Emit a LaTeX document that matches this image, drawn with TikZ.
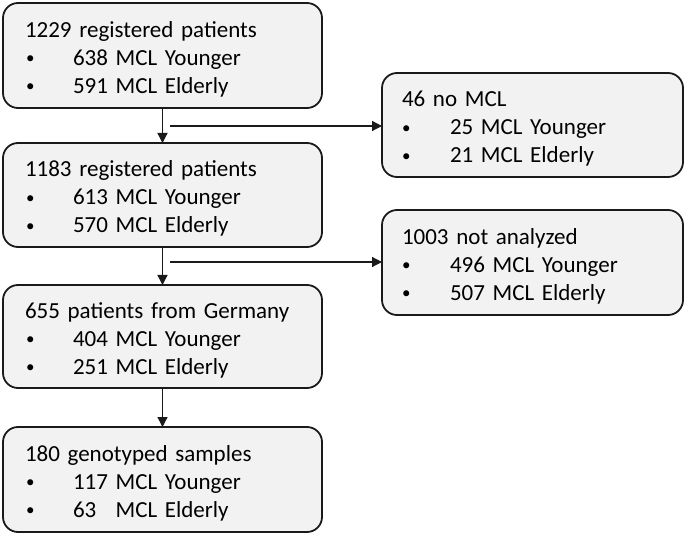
\documentclass[tikz,border=0pt]{standalone}
\usepackage{fontspec}
\setmainfont{Carlito}
\usetikzlibrary{arrows.meta}
\definecolor{boxfill}{HTML}{F2F2F2}
\definecolor{boxline}{HTML}{1A1A1A}
\newcommand{\bul}{\raisebox{1.5pt}{\fontsize{17}{28}\selectfont\textbullet}}
\newcommand{\itmL}{\makebox[48pt][l]{\hspace{1pt}\bul}}
\newcommand{\itmR}{\makebox[48pt][l]{\hspace{0pt}\bul}}
\newcommand{\topstrut}{\rule{0pt}{23pt}}
\begin{document}
\begin{tikzpicture}[x=1pt,y=1pt,
  basebox/.style={draw=boxline, fill=boxfill, line width=1.8pt, rounded corners=15pt,
    anchor=north west, outer sep=0pt, inner ysep=0pt, align=left,
    font=\fontsize{23}{28}\selectfont},
  lbox/.style={basebox, inner xsep=22pt, text width=275pt, minimum width=319pt},
  rbox/.style={basebox, inner xsep=20pt, text width=261pt, minimum width=301pt},
  arr/.style={draw=boxline, line width=1.3pt, -{Triangle[length=10pt,width=10pt]}}]
\useasboundingbox (0,0) rectangle (685,536);
\node[lbox, minimum height=105pt] (b1) at (3,533)
  {\topstrut1229 registered patients\\ \itmL 638 MCL Younger\\ \itmL 591 MCL Elderly};
\node[lbox, minimum height=104pt] (b2) at (3,393)
  {\topstrut1183 registered patients\\ \itmL 613 MCL Younger\\ \itmL 570 MCL Elderly};
\node[lbox, minimum height=103pt] (b3) at (3,251)
  {\topstrut655 patients from Germany\\ \itmL 404 MCL Younger\\ \itmL 251 MCL Elderly};
\node[lbox, minimum height=105pt] (b4) at (3,109)
  {\topstrut180 genotyped samples\\ \itmL 117 MCL Younger\\ \itmL 63\phantom{0} MCL Elderly};
\node[rbox, minimum height=104pt] (r1) at (382,463)
  {\topstrut46 no MCL\\ \itmR 25 MCL Younger\\ \itmR 21 MCL Elderly};
\node[rbox, minimum height=105pt] (r2) at (382,326)
  {\topstrut1003 not analyzed\\ \itmR 496 MCL Younger\\ \itmR 507 MCL Elderly};
\coordinate (h1) at (170,410);
\coordinate (h2) at (170,274);
\draw[arr] (b1.south) -- (b2.north);
\draw[arr] (b2.south) -- (b3.north);
\draw[arr] (b3.south) -- (b4.north);
\draw[arr] (h1) -- (h1 -| r1.west);
\draw[arr] (h2) -- (h2 -| r2.west);
\end{tikzpicture}
\end{document}
